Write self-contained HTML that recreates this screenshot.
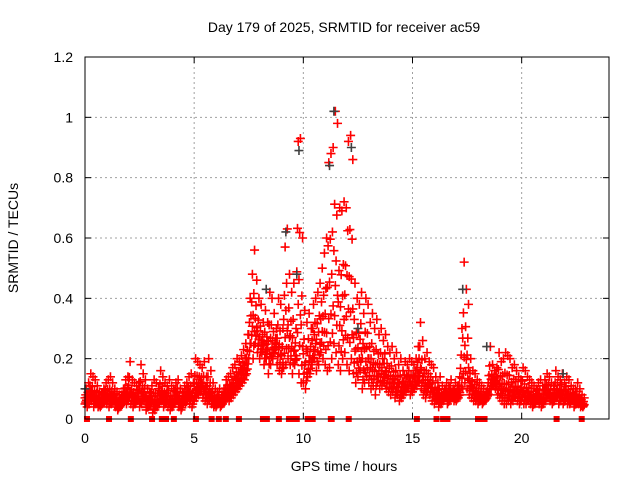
<!DOCTYPE html>
<html><head><meta charset="utf-8"><style>
body{margin:0;background:#fff}
svg text{font-family:"Liberation Sans",sans-serif;font-size:14px;fill:#000}
</style></head><body>
<svg id="chart" width="640" height="480" xmlns="http://www.w3.org/2000/svg">
<rect width="640" height="480" fill="#fff"/>
<text x="344" y="32" text-anchor="middle">Day 179 of 2025, SRMTID for receiver ac59</text>
<text x="344" y="471" text-anchor="middle">GPS time / hours</text>
<text transform="translate(18,238) rotate(-90)" text-anchor="middle">SRMTID / TECUs</text>
<g id="grid"></g>
<g id="marks"></g>
<rect x="85" y="57" width="524" height="362" fill="none" stroke="#000" stroke-width="1"/>
<g id="ticks"></g>
</svg>
<script>
const xTicks=[0,5,10,15,20];
const yTicks=[0,0.2,0.4,0.6,0.8,1,1.2];
const yTickLabels=["0","0.2","0.4","0.6","0.8","1","1.2"];
const tStep=0.1;
const hiVals=[0.10,0.12,0.15,0.14,0.13,0.11,0.09,0.08,0.10,0.12,
0.13,0.14,0.12,0.10,0.09,0.08,0.08,0.10,0.13,0.14,
0.19,0.13,0.12,0.11,0.12,0.18,0.15,0.13,0.10,0.09,
0.11,0.13,0.12,0.10,0.16,0.14,0.12,0.11,0.13,0.11,
0.10,0.12,0.13,0.10,0.09,0.11,0.12,0.14,0.15,0.12,
0.20,0.19,0.18,0.17,0.19,0.14,0.20,0.16,0.12,0.10,
0.09,0.10,0.08,0.10,0.13,0.14,0.15,0.17,0.18,0.20,
0.19,0.21,0.23,0.25,0.28,0.40,0.48,0.56,0.46,0.40,
0.38,0.32,0.36,0.32,0.42,0.40,0.35,0.30,0.40,0.38,
0.30,0.57,0.63,0.48,0.42,0.45,0.30,0.92,0.93,0.60,
0.36,0.32,0.35,0.30,0.38,0.40,0.42,0.45,0.50,0.55,
0.60,0.85,0.88,0.90,1.02,0.98,0.70,0.69,0.72,0.70,
0.92,0.94,0.86,0.45,0.40,0.38,0.42,0.35,0.40,0.38,
0.32,0.35,0.30,0.33,0.28,0.30,0.26,0.28,0.24,0.22,
0.24,0.20,0.22,0.18,0.20,0.16,0.19,0.18,0.20,0.19,
0.18,0.20,0.24,0.32,0.26,0.20,0.22,0.19,0.18,0.17,
0.14,0.12,0.14,0.11,0.10,0.12,0.11,0.13,0.10,0.12,
0.11,0.14,0.30,0.52,0.43,0.38,0.20,0.16,0.15,0.13,
0.12,0.11,0.10,0.09,0.12,0.24,0.18,0.16,0.17,0.22,
0.19,0.20,0.22,0.21,0.20,0.17,0.18,0.16,0.14,0.13,
0.17,0.16,0.14,0.13,0.12,0.11,0.10,0.12,0.13,0.11,
0.13,0.15,0.14,0.12,0.11,0.16,0.14,0.13,0.15,0.12,
0.14,0.13,0.11,0.10,0.10,0.12,0.10,0.08,0.07];
const loVals=[0.05,0.04,0.05,0.06,0.04,0.05,0.04,0.04,0.05,0.06,
0.05,0.04,0.05,0.06,0.04,0.03,0.04,0.05,0.06,0.05,
0.06,0.05,0.04,0.05,0.06,0.04,0.05,0.06,0.03,0.04,
0.05,0.02,0.03,0.04,0.05,0.06,0.04,0.05,0.04,0.03,
0.04,0.05,0.06,0.04,0.03,0.05,0.05,0.06,0.05,0.04,
0.06,0.07,0.08,0.09,0.07,0.06,0.05,0.06,0.05,0.04,
0.04,0.05,0.04,0.05,0.06,0.07,0.06,0.07,0.08,0.09,
0.10,0.11,0.12,0.13,0.15,0.20,0.25,0.20,0.25,0.22,
0.20,0.22,0.18,0.20,0.15,0.18,0.20,0.22,0.18,0.16,
0.15,0.17,0.18,0.20,0.18,0.15,0.18,0.20,0.15,0.12,
0.12,0.10,0.14,0.15,0.18,0.20,0.16,0.18,0.22,0.20,
0.18,0.16,0.17,0.20,0.25,0.22,0.18,0.16,0.20,0.22,
0.18,0.16,0.20,0.15,0.12,0.14,0.16,0.10,0.12,0.14,
0.12,0.10,0.11,0.08,0.12,0.10,0.11,0.12,0.10,0.09,
0.08,0.09,0.07,0.08,0.06,0.07,0.08,0.09,0.10,0.08,
0.09,0.10,0.11,0.12,0.10,0.08,0.07,0.09,0.08,0.06,
0.05,0.06,0.04,0.05,0.06,0.07,0.05,0.06,0.07,0.06,
0.06,0.07,0.08,0.10,0.12,0.10,0.08,0.07,0.06,0.06,
0.05,0.06,0.05,0.06,0.07,0.08,0.10,0.11,0.10,0.08,
0.07,0.06,0.05,0.05,0.06,0.05,0.06,0.07,0.06,0.05,
0.06,0.05,0.05,0.06,0.05,0.04,0.05,0.06,0.05,0.04,
0.05,0.06,0.07,0.06,0.05,0.06,0.07,0.05,0.06,0.05,
0.06,0.05,0.05,0.06,0.04,0.05,0.05,0.04,0.04];
const grayTimes=[0.0,8.3,9.2,9.7,9.8,11.4,11.2,12.2,17.3,18.4,12.5,21.9];
const grayVals=[0.10,0.43,0.62,0.48,0.89,1.02,0.84,0.90,0.43,0.24,0.30,0.15];
const gapTimes=[0.09,1.1,2.1,3.07,3.52,3.71,4.07,5.08,5.8,6.13,6.45,7.05,8.15,8.33,8.88,9.34,9.52,9.7,10.2,10.43,11.26,11.3,12.08,15.2,16.1,16.4,16.6,18.0,18.2,18.3,21.6,22.75];

const X0=85,X1=609,Y0=419,Y1=57;
const xs=t=>X0+(X1-X0)*t/24;
const ys=v=>Y0-(Y0-Y1)*v/1.2;
const NS="http://www.w3.org/2000/svg";
function mk(tag,attrs,parent){const e=document.createElementNS(NS,tag);for(const k in attrs)e.setAttribute(k,attrs[k]);parent.appendChild(e);return e;}
const grid=document.getElementById('grid'),ticks=document.getElementById('ticks'),marks=document.getElementById('marks');
xTicks.forEach(t=>{const x=xs(t);
 if(t>0){const g=mk('line',{x1:x,x2:x,y1:Y1,y2:Y0,stroke:'#a0a0a0','stroke-dasharray':'2,3'},grid);
 
 }
 mk('line',{x1:x,x2:x,y1:Y0,y2:Y0-6,stroke:'#000'},ticks);
 mk('line',{x1:x,x2:x,y1:Y1,y2:Y1+6,stroke:'#000'},ticks);
 const l=mk('text',{x:x,y:Y0+24,'text-anchor':'middle'},ticks);l.textContent=String(t);
 
 
});
yTicks.forEach((v,i)=>{const y=ys(v);
 if(v>0&&v<1.2){const g=mk('line',{x1:X0,x2:X1,y1:y,y2:y,stroke:'#a0a0a0','stroke-dasharray':'2,3'},grid);
 
 }
 mk('line',{x1:X0,x2:X0+6,y1:y,y2:y,stroke:'#000'},ticks);
 mk('line',{x1:X1,x2:X1-6,y1:y,y2:y,stroke:'#000'},ticks);
 const l=mk('text',{x:X0-12,y:y+5,'text-anchor':'end'},ticks);l.textContent=yTickLabels[i];
 
 
});
function cross(t,v,col){const x=xs(t),y=ys(v);
 const p=mk('path',{d:`M${x-4.5},${y}h9M${x},${y-4.5}v9`,stroke:col,'stroke-width':1.6,fill:'none'},marks);
 
 }
hiVals.forEach((h,i)=>{const t=i*tStep,l=loVals[i];
 [0,0.12,0.25,0.4,0.6,1].forEach((k,j)=>cross(t+(j%3)*0.033,l+(h-l)*k,'#ff0000'));
});
grayTimes.forEach((t,i)=>cross(t,grayVals[i],'#404040'));
gapTimes.forEach(t=>{const r=mk('rect',{x:xs(t)-3,y:Y0-3,width:6,height:6,fill:'#ff0000'},marks);
 
 });
</script>
</body></html>
